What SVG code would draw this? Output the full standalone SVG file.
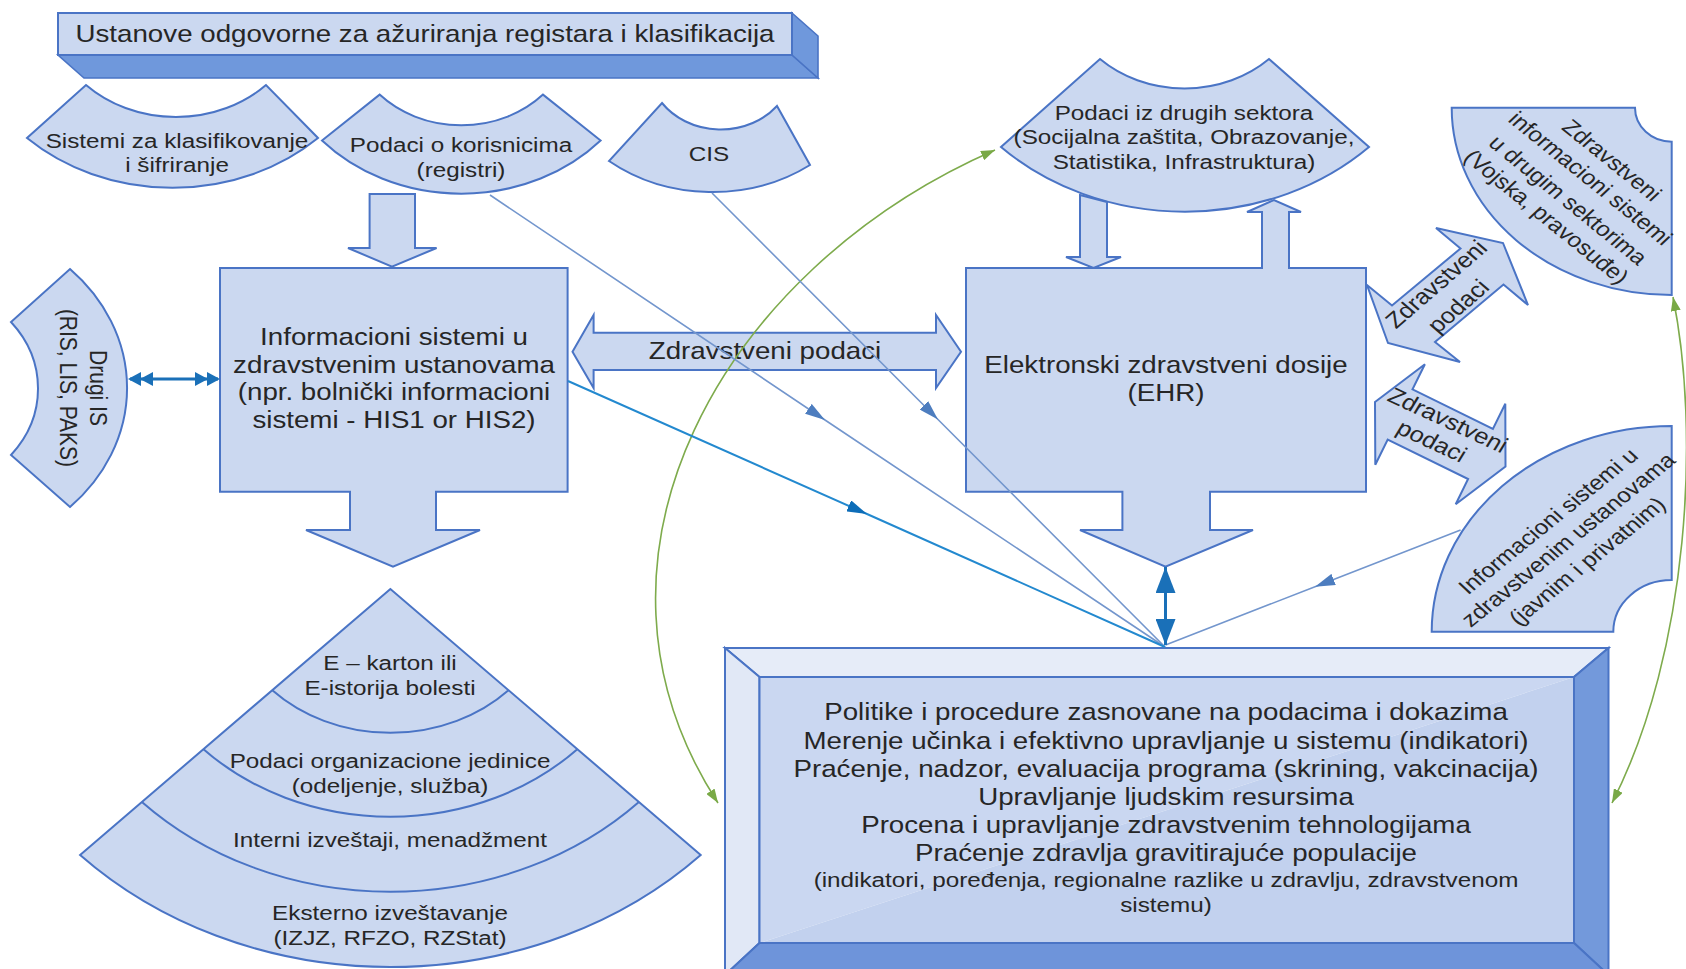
<svg xmlns="http://www.w3.org/2000/svg" width="1686" height="969" viewBox="0 0 1686 969">
<defs>
<style>
.n{fill:#cbd8f0;stroke:#4a74c5;stroke-width:2;stroke-linejoin:miter}
.dk{fill:#6f98dc;stroke:#4a74c5;stroke-width:1.6}
.bv{stroke:#4a74c5;stroke-width:2}
.t{font-family:"Liberation Sans",Arial,sans-serif;fill:#262626;text-anchor:middle}
.f24{font-size:24px}
.f22{font-size:22px}
.f21{font-size:21px}
.ln{fill:none;stroke:#7396cd;stroke-width:1.6}
.lb{fill:none;stroke:#2389cf;stroke-width:2}
.bl{fill:none;stroke:#1a70b8;stroke-width:3}
.gr{fill:none;stroke:#7eab4c;stroke-width:1.6}
</style>
<marker id="ahMid" markerUnits="userSpaceOnUse" markerWidth="20" markerHeight="12" viewBox="0 0 20 12" refX="20" refY="6" orient="auto"><path d="M0,0 L20,6 L0,12 Z" fill="#4d7dbf"/></marker>
<marker id="ahMidB" markerUnits="userSpaceOnUse" markerWidth="20" markerHeight="12" viewBox="0 0 20 12" refX="20" refY="6" orient="auto"><path d="M0,0 L20,6 L0,12 Z" fill="#0d6db8"/></marker>
<marker id="ahBlue" markerUnits="userSpaceOnUse" markerWidth="26" markerHeight="20" viewBox="0 0 26 20" refX="26" refY="10" orient="auto-start-reverse"><path d="M0,0 L26,10 L0,20 Z" fill="#1a70b8"/></marker>
<marker id="ahGreen" markerUnits="userSpaceOnUse" markerWidth="14" markerHeight="10" viewBox="0 0 14 10" refX="14" refY="5" orient="auto-start-reverse"><path d="M0,0 L14,5 L0,10 Z" fill="#79a946"/></marker>
</defs>
<rect width="1686" height="969" fill="#ffffff"/>

<g id="title">
<polygon class="dk" points="58,55 792,55 818,78 84,78"/>
<polygon class="dk" points="792,13 818,36 818,78 792,55"/>
<rect class="n" x="58" y="13" width="734" height="42"/>
<text class="t f24" transform="translate(425 0) scale(1.155 1)" y="42">Ustanove odgovorne za ažuriranja registara i klasifikacija</text>
</g>

<g id="sistemi-klasifikacija">
<path class="n" d="M86,85 A128,110.8 0 0 0 266,85 L318,138 A213,184.7 0 0 1 27,138 Z"/>
<text class="t f21" transform="translate(177 0) scale(1.155 1)"><tspan x="0" y="148">Sistemi za klasifikovanje</tspan><tspan x="0" y="172">i šifriranje</tspan></text>
</g>

<g id="podaci-korisnici">
<path class="n" d="M379.6,94.6 A111.8,96.8 0 0 0 543,94.6 L600.6,140.5 A188.8,163.5 0 0 1 322,140.5 Z"/>
<text class="t f21" transform="translate(461 0) scale(1.155 1)"><tspan x="0" y="152">Podaci o korisnicima</tspan><tspan x="0" y="177">(registri)</tspan></text>
</g>

<g id="cis">
<path class="n" d="M662,103 A72,62.6 0 0 0 777,106 L810,165 A167.5,145 0 0 1 609,161 Z"/>
<text class="t f21" transform="translate(709 0) scale(1.155 1)" y="161">CIS</text>
</g>

<g id="drugi-is">
<path class="n" d="M70,269 A194,168 0 0 1 70,507 L11,455 A122.6,106.2 0 0 0 11,322 Z"/>
<text class="t f21" transform="translate(90 388) scale(1.155 1) rotate(90)">Drugi IS</text>
<text class="t f21" transform="translate(59.5 388) scale(1.155 1) rotate(90)">(RIS, LIS, PAKS)</text>
</g>

<g id="his">
<path class="n" d="M220,268 H567.6 V491.7 H436 V530 H480 L393,566.7 L306,530 H350 V491.7 H220 Z"/>
<text class="t f24" transform="translate(394 0) scale(1.155 1)"><tspan x="0" y="345">Informacioni sistemi u</tspan><tspan x="0" y="373">zdravstvenim ustanovama</tspan><tspan x="0" y="400.5">(npr. bolnički informacioni</tspan><tspan x="0" y="428">sistemi - HIS1 or HIS2)</tspan></text>
</g>

<g id="podaci-sektori">
<path class="n" d="M1100,59 A122,105.6 0 0 0 1269,59 L1369,147 A264,228.6 0 0 1 1001,147 Z"/>
<text class="t f21" transform="translate(1184 0) scale(1.155 1)"><tspan x="0" y="120">Podaci iz drugih sektora</tspan><tspan x="0" y="144.5">(Socijalna zaštita, Obrazovanje,</tspan><tspan x="0" y="169.5">Statistika, Infrastruktura)</tspan></text>
</g>

<g id="ehr">
<path class="n" d="M966,268 H1262 V212 H1247 L1274,200 L1301,212 H1289 V268 H1366 V491.7 H1210 V530 H1253 L1165.5,566.7 L1080,530 H1122.4 V491.7 H966 Z"/>
<text class="t f24" transform="translate(1166 0) scale(1.155 1)"><tspan x="0" y="373">Elektronski zdravstveni dosije</tspan><tspan x="0" y="401.5">(EHR)</tspan></text>
</g>

<g id="zis-sektori">
<path class="n" d="M1451.7,107.7 L1635,107.7 A36.7,34 0 0 0 1671.7,141.7 L1671.7,295 A220,187.3 0 0 1 1451.7,107.7 Z"/>
<text class="t f21" transform="translate(1612 160) scale(1.155 1) rotate(43)" dy="0.35em">Zdravstveni</text>
<text class="t f21" transform="translate(1590.7 178.3) scale(1.155 1) rotate(43)" dy="0.35em">informacioni sistemi</text>
<text class="t f21" transform="translate(1568.3 200) scale(1.155 1) rotate(43)" dy="0.35em">u drugim sektorima</text>
<text class="t f21" transform="translate(1546.7 216.7) scale(1.155 1) rotate(43)" dy="0.35em">(Vojska, pravosuđe)</text>
</g>

<g id="is-ustanove">
<path class="n" d="M1671.7,426 L1671.7,580 A58.4,51.7 0 0 0 1613.3,631.7 L1431.7,631.7 A240,205.7 0 0 1 1671.7,426 Z"/>
<text class="t f21" transform="translate(1548 521) scale(1.155 1) rotate(-43)" dy="0.35em">Informacioni sistemi u</text>
<text class="t f21" transform="translate(1568 539.5) scale(1.155 1) rotate(-43)" dy="0.35em">zdravstvenim ustanovama</text>
<text class="t f21" transform="translate(1587 561) scale(1.155 1) rotate(-43)" dy="0.35em">(javnim i privatnim)</text>
</g>

<g id="izvestaji-piramida">
<path class="n" d="M390.4,589 L80.1,854.9 A436.6,378 0 0 0 700.7,854.9 Z"/>
<path class="n" style="fill:none" d="M272.3,690.2 A166.3,144 0 0 0 508.5,690.2"/>
<path class="n" style="fill:none" d="M203.5,749.2 A263,227.7 0 0 0 577.3,749.2"/>
<path class="n" style="fill:none" d="M141.9,801.9 A349.6,302.7 0 0 0 638.9,801.9"/>
<text class="t f21" transform="translate(390 0) scale(1.155 1)"><tspan x="0" y="670">E – karton ili</tspan><tspan x="0" y="695">E-istorija bolesti</tspan><tspan x="0" y="768">Podaci organizacione jedinice</tspan><tspan x="0" y="793">(odeljenje, služba)</tspan><tspan x="0" y="847">Interni izveštaji, menadžment</tspan><tspan x="0" y="920">Eksterno izveštavanje</tspan><tspan x="0" y="945">(IZJZ, RFZO, RZStat)</tspan></text>
</g>

<g id="politike">
<polygon class="bv" fill="#e6ecf8" points="725,648 1608.5,648 1574,677 759.5,677"/>
<polygon class="bv" fill="#e1e8f6" points="725,648 759.5,677 759.5,943 725,975"/>
<polygon class="bv" fill="#7399db" points="1608.5,648 1608.5,975 1574,943 1574,677"/>
<polygon class="bv" fill="#6e94da" points="725,975 759.5,943 1574,943 1608.5,975"/>
<polygon fill="#cad7f1" points="759.5,677 1574,677 759.5,943"/>
<polygon fill="#c2d1ee" points="1574,677 1574,943 759.5,943"/>
<rect x="759.5" y="677" width="814.5" height="266" fill="none" stroke="#4a74c5" stroke-width="2"/>
<text class="t f24" transform="translate(1166 0) scale(1.155 1)"><tspan x="0" y="720.5">Politike i procedure zasnovane na podacima i dokazima</tspan><tspan x="0" y="749">Merenje učinka i efektivno upravljanje u sistemu (indikatori)</tspan><tspan x="0" y="777">Praćenje, nadzor, evaluacija programa (skrining, vakcinacija)</tspan><tspan x="0" y="805">Upravljanje ljudskim resursima</tspan><tspan x="0" y="833">Procena i upravljanje zdravstvenim tehnologijama</tspan><tspan x="0" y="861.5">Praćenje zdravlja gravitirajuće populacije</tspan></text>
<text class="t f21" transform="translate(1166 0) scale(1.155 1)"><tspan x="0" y="887">(indikatori, poređenja, regionalne razlike u zdravlju, zdravstvenom</tspan><tspan x="0" y="912.5">sistemu)</tspan></text>
</g>

<g id="connectors">
<path class="n" d="M369.6,194 H415 V248 H436.6 L392,266.7 L348,248 H369.6 Z"/>
<path class="n" d="M1080,195 L1107,202 V257 H1121 L1093.5,268 L1066,257 H1080 Z"/>
<path class="n" d="M572.5,351.7 L593.6,315 V332.7 H936 V315 L961,351.7 L936,388 V370 H593.6 V388 Z"/>
<polygon class="n" points="1388,343 1367,285 1392,305.5 1460.5,248.5 1436,228 1503,243 1528,305 1503.5,284.5 1435,342 1460,362"/>
<polygon class="n" points="1375,402 1424.9,364.2 1412.5,389.3 1492.9,428.9 1505.3,403.8 1505.5,466.5 1455.7,504.3 1468.1,479 1387.7,439.5 1375.3,464.7"/>
<text class="t f24" transform="translate(765 0) scale(1.155 1)" y="359">Zdravstveni podaci</text>
<text class="t f22" transform="translate(1436 284) scale(1.155 1) rotate(-45)" dy="0.35em">Zdravstveni</text>
<text class="t f22" transform="translate(1458 306) scale(1.155 1) rotate(-45)" dy="0.35em">podaci</text>
<text class="t f22" transform="translate(1448 420) scale(1.155 1) rotate(28)" dy="0.35em">Zdravstveni</text>
<text class="t f22" transform="translate(1432 441) scale(1.155 1) rotate(28)" dy="0.35em">podaci</text>

<path class="gr" d="M995,150 C720,270 560,560 718,803" marker-start="url(#ahGreen)" marker-end="url(#ahGreen)"/>
<path class="gr" d="M1673,297 C1700,430 1690,650 1612,803" marker-start="url(#ahGreen)" marker-end="url(#ahGreen)"/>

<path class="ln" d="M490,195 L825,420 L1165,647" marker-mid="url(#ahMid)"/>
<path class="ln" d="M712,193 L938,419.5 L1165,647" marker-mid="url(#ahMid)"/>
<path class="lb" d="M568,381 L867,514 L1165,647" marker-mid="url(#ahMidB)"/>
<path class="ln" d="M1460.6,530 L1315,586.7 L1165.5,645" marker-mid="url(#ahMid)"/>
<path class="bl" d="M1165.5,567 V645" marker-start="url(#ahBlue)" marker-end="url(#ahBlue)"/>

<path class="bl" d="M130,379 H218"/>
<polygon fill="#1a70b8" points="128,379 141,372 141,386"/>
<polygon fill="#1a70b8" points="140,379 153,372 153,386"/>
<polygon fill="#1a70b8" points="220,379 207,372 207,386"/>
<polygon fill="#1a70b8" points="208,379 195,372 195,386"/>
</g>
</svg>
